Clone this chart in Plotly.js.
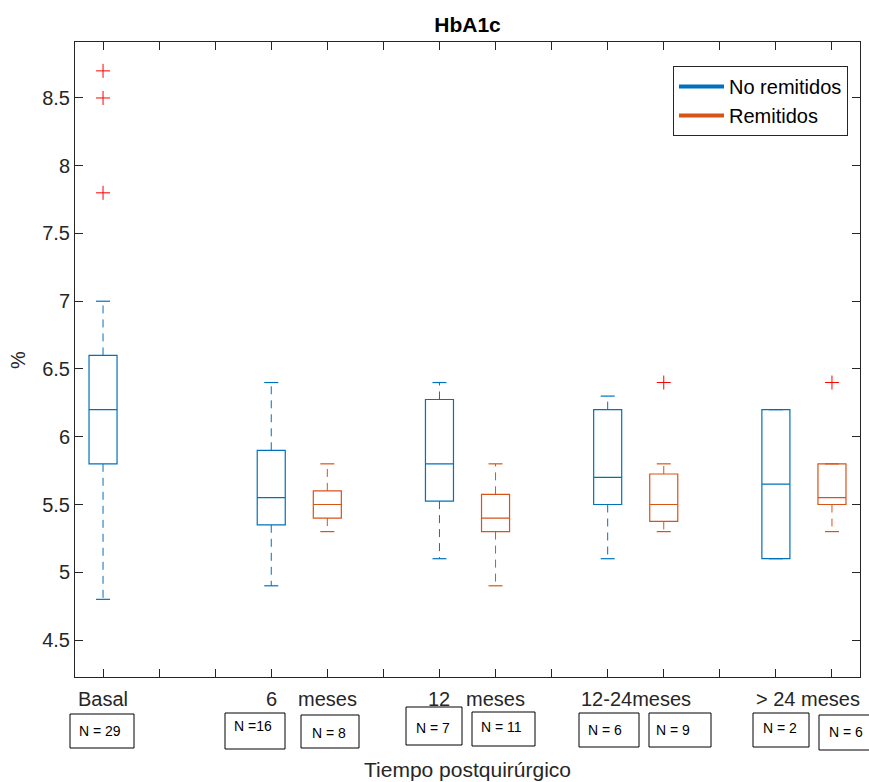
<!DOCTYPE html>
<html>
<head>
<meta charset="utf-8">
<script src="https://cdn.plot.ly/plotly-3.0.1.min.js"></script>
<style>html,body{margin:0;padding:0;background:#fff;}#chart{width:869px;height:782px;}</style>
</head>
<body>
<div id="chart"></div>
<script>
// ---------------- DATA ----------------
const categories = ['Basal', '6 meses', '12 meses', '12-24 meses', '> 24 meses'];
// No remitidos (blue) — one per category
const nrLowW  = [4.8, 4.9, 5.1, 5.1, 5.1];
const nrQ1    = [5.8, 5.35, 5.525, 5.5, 5.1];
const nrMed   = [6.2, 5.55, 5.8, 5.7, 5.65];
const nrQ3    = [6.6, 5.9, 6.275, 6.2, 6.2];
const nrHighW = [7.0, 6.4, 6.4, 6.3, 6.2];
const nrOut   = [[8.7, 8.5, 7.8], [], [], [], []];
// Remitidos (orange) — categories 2..5
const rLowW  = [5.3, 4.9, 5.3, 5.3];
const rQ1    = [5.4, 5.3, 5.375, 5.5];
const rMed   = [5.5, 5.4, 5.5, 5.55];
const rQ3    = [5.6, 5.575, 5.725, 5.8];
const rHighW = [5.8, 5.8, 5.8, 5.8];
const rOut   = [[], [], [6.4], [6.4]];
// Counts
const nLabels = ['N = 29', 'N =16', 'N = 8', 'N = 7', 'N = 11', 'N = 6', 'N = 9', 'N = 2', 'N = 6'];
// Axis label texts
const tickTexts = ['Basal', '6', 'meses', '12', 'meses', '12-24meses', '> 24 meses'];
const yTickLabels = ['4.5', '5', '5.5', '6', '6.5', '7', '7.5', '8', '8.5'];
const seriesNames = ['No remitidos', 'Remitidos'];

// ---------------- LAYOUT CONSTANTS ----------------
const W = 869, H = 782;
const M = {l: 75, r: 9, t: 42, b: 105};
const slotNR = [1, 4, 7, 10, 13];
const slotR = [5, 8, 11, 14];
const tickTextX = [1, 4, 5, 7, 8, 10.5, 13.57];
const BLUE = '#0072BD', ORANGE = '#D95319', AX = '#262626';
const boxW = 0.5, capW = 0.25;
const xRange = [0.5, 14.5], yRange = [4.227, 8.913];
// N-box pixel rects: [left, top, right, bottom] and text anchor [left x, center y]
const nBoxes = [[70,714,134,748],[225,713,285,749],[301,715,359,748],[406,707,462,745],
                [472,712,535,746],[579,713,639,747],[649,713,711,747],[753,713,809,747],[819,715,879,750]];
const nText = [[78,731],[233,726],[311,733],[415,728],[480,727],[587,730],[655,730],[762,728],[828,732]];

const pw = W - M.l - M.r, ph = H - M.t - M.b;
const px2x = p => (p - M.l) / pw;
const py2y = p => (H - M.b - p) / ph;

function boxTrace(pos, q1, med, q3, color) {
  return {type: 'box', x: pos, q1: q1, median: med, q3: q3, lowerfence: q1, upperfence: q3,
    width: boxW, whiskerwidth: 0, fillcolor: 'rgba(0,0,0,0)', line: {color: color, width: 1.2},
    boxpoints: false, showlegend: false, hoverinfo: 'skip'};
}
function whiskerTraces(pos, lo, q1, q3, hi, color) {
  const wx = [], wy = [], cx = [], cy = [];
  pos.forEach((p, i) => {
    wx.push(p, p, null, p, p, null); wy.push(q3[i], hi[i], null, q1[i], lo[i], null);
    cx.push(p - capW/2, p + capW/2, null, p - capW/2, p + capW/2, null);
    cy.push(hi[i], hi[i], null, lo[i], lo[i], null);
  });
  return [
    {type: 'scatter', mode: 'lines', x: wx, y: wy, line: {color: color, width: 1, dash: '8px,6px'}, showlegend: false, hoverinfo: 'skip'},
    {type: 'scatter', mode: 'lines', x: cx, y: cy, line: {color: color, width: 1.2}, showlegend: false, hoverinfo: 'skip'}
  ];
}
function outlierTrace(pos, outs) {
  const ox = [], oy = [];
  pos.forEach((p, i) => outs[i].forEach(v => { ox.push(p); oy.push(v); }));
  return {type: 'scatter', mode: 'markers', x: ox, y: oy,
    marker: {symbol: 'cross-thin', size: 10, line: {color: '#FF0000', width: 1}}, showlegend: false, hoverinfo: 'skip'};
}

const traces = [
  ...whiskerTraces(slotNR, nrLowW, nrQ1, nrQ3, nrHighW, BLUE),
  ...whiskerTraces(slotR, rLowW, rQ1, rQ3, rHighW, ORANGE),
  boxTrace(slotNR, nrQ1, nrMed, nrQ3, BLUE),
  boxTrace(slotR, rQ1, rMed, rQ3, ORANGE),
  outlierTrace(slotNR, nrOut),
  outlierTrace(slotR, rOut),
  {type: 'scatter', mode: 'lines', x: [null], y: [null], name: seriesNames[0], line: {color: BLUE, width: 4}},
  {type: 'scatter', mode: 'lines', x: [null], y: [null], name: seriesNames[1], line: {color: ORANGE, width: 4}}
];

const FONT = 'Liberation Sans, Arial, sans-serif';
const annotations = [];
const shapes = [];
tickTexts.forEach((t, i) => annotations.push({
  text: t, x: tickTextX[i], xref: 'x', y: py2y(699), yref: 'paper', xanchor: 'center', yanchor: 'middle',
  showarrow: false, font: {family: FONT, size: 20, color: AX}
}));
nLabels.forEach((t, i) => {
  const b = nBoxes[i], tp = nText[i];
  shapes.push({type: 'rect', xref: 'paper', yref: 'paper', x0: px2x(b[0]), x1: px2x(b[2]), y0: py2y(b[3]), y1: py2y(b[1]),
    line: {color: '#000', width: 1}, fillcolor: 'rgba(0,0,0,0)'});
  annotations.push({
    text: t, x: px2x(tp[0]), xref: 'paper', y: py2y(tp[1]), yref: 'paper', xanchor: 'left', yanchor: 'middle',
    showarrow: false, borderpad: 0, font: {family: FONT, size: 14, color: '#000'}
  });
});
annotations.push({text: 'Tiempo postquirúrgico', x: px2x(467.5), xref: 'paper', y: py2y(782), yref: 'paper',
  xanchor: 'center', yanchor: 'bottom', showarrow: false, borderpad: 0, font: {family: FONT, size: 21, color: AX}});
annotations.push({text: '%', x: px2x(18), xref: 'paper', y: py2y(360), yref: 'paper', textangle: -90,
  xanchor: 'center', yanchor: 'middle', showarrow: false, font: {family: FONT, size: 20, color: AX}});

const layout = {
  width: W, height: H, margin: M, paper_bgcolor: '#fff', plot_bgcolor: '#fff',
  font: {family: FONT, color: AX},
  title: {text: '<b>HbA1c</b>', x: (M.l + pw / 2) / W, xanchor: 'center', y: 1 - 25 / H, yanchor: 'middle',
    font: {family: FONT, size: 21, color: '#000'}},
  boxmode: 'overlay',
  xaxis: {range: xRange, tickvals: [1,2,3,4,5,6,7,8,9,10,11,12,13,14], showticklabels: false,
    ticks: 'inside', ticklen: 8, tickcolor: AX, tickwidth: 1, mirror: 'ticks', showline: true, linecolor: AX,
    linewidth: 1, showgrid: false, zeroline: false, fixedrange: true},
  yaxis: {range: yRange, tickvals: [4.5,5,5.5,6,6.5,7,7.5,8,8.5], ticktext: yTickLabels,
    ticks: 'inside', ticklen: 8, tickcolor: AX, tickwidth: 1, mirror: 'ticks', showline: true, linecolor: AX,
    linewidth: 1, showgrid: false, zeroline: false, tickfont: {family: FONT, size: 20, color: AX},
    ticklabelstandoff: 0, fixedrange: true},
  legend: {x: px2x(848), xanchor: 'right', y: py2y(66), yanchor: 'top', bgcolor: '#fff', bordercolor: AX,
    borderwidth: 1, font: {family: FONT, size: 20, color: '#000'}, itemwidth: 45, tracegroupgap: 0},
  annotations: annotations,
  shapes: shapes,
  showlegend: true
};

Plotly.newPlot('chart', traces, layout, {displayModeBar: false, staticPlot: true});
</script>
</body>
</html>
